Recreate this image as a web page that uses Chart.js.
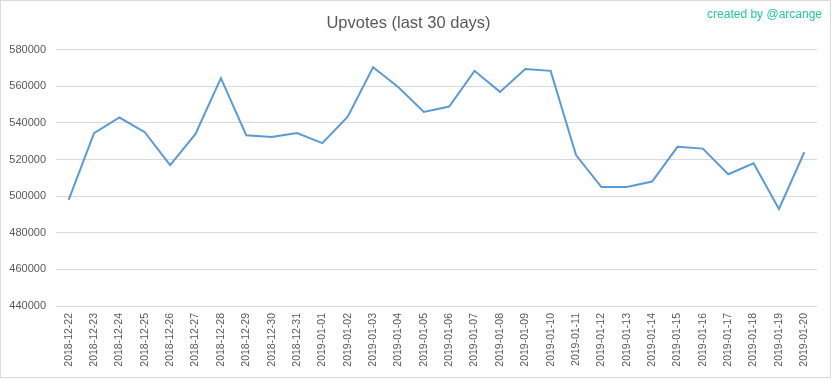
<!DOCTYPE html>
<html>
<head>
<meta charset="utf-8">
<script src="https://cdn.jsdelivr.net/npm/chart.js@4/dist/chart.umd.min.js"></script>
<style>
  body { margin: 0; background: #fff; }
  canvas { display: block; }
</style>
</head>
<body>
<canvas id="upvotesChart" width="832" height="379"></canvas>
<script>
const days = [
  "2018-12-22", "2018-12-23", "2018-12-24", "2018-12-25", "2018-12-26",
  "2018-12-27", "2018-12-28", "2018-12-29", "2018-12-30", "2018-12-31",
  "2019-01-01", "2019-01-02", "2019-01-03", "2019-01-04", "2019-01-05",
  "2019-01-06", "2019-01-07", "2019-01-08", "2019-01-09", "2019-01-10",
  "2019-01-11", "2019-01-12", "2019-01-13", "2019-01-14", "2019-01-15",
  "2019-01-16", "2019-01-17", "2019-01-18", "2019-01-19", "2019-01-20"
];
const upvotes = [
  498000, 534500, 543000, 535000, 517000,
  534000, 564500, 533300, 532300, 534500,
  529000, 543500, 570500, 559500, 546000,
  549000, 568500, 557000, 569500, 568500,
  522500, 505000, 505000, 508000, 527000,
  526000, 512000, 518000, 493000, 524000
];
const yMin = 440000;
const yMax = 580000;
const yStep = 20000;

// frame + credit text
const decorations = {
  id: "decorations",
  beforeDraw(chart) {
    const c = chart.ctx;
    c.save();
    c.fillStyle = "#ffffff";
    c.fillRect(0, 0, chart.width, chart.height);
    c.strokeStyle = "#d9d9d9";
    c.lineWidth = 1;
    c.strokeRect(0.5, 0.5, 830, 377);
    c.restore();
  },
  afterDraw(chart) {
    const c = chart.ctx;
    c.save();
    c.fillStyle = "#20c9a0";
    c.font = "12px 'Liberation Sans', Arial, sans-serif";
    c.textAlign = "right";
    c.textBaseline = "middle";
    c.fillText("created by @arcange", 822, 15);
    c.restore();
  }
};

const ctx = document.getElementById("upvotesChart").getContext("2d");
new Chart(ctx, {
  type: "line",
  data: {
    labels: days,
    datasets: [
      {
        label: "Upvotes",
        data: upvotes,
        borderColor: "#5b9bd5",
        borderWidth: 2,
        pointRadius: 0,
        tension: 0,
        fill: false,
      },
    ],
  },
  options: {
    responsive: false,
    animation: false,
    layout: { padding: { left: 0, right: 15, top: 0, bottom: 0 } },
    plugins: {
      legend: { display: false },
      tooltip: { enabled: false },
      title: {
        display: true,
        text: "Upvotes (last 30 days)",
        color: "#595959",
        font: { family: "'Liberation Sans', Arial, sans-serif", size: 16.5, weight: "normal" },
        padding: { top: 14, bottom: 16 },
      },
    },
    scales: {
      x: {
        offset: true,
        grid: { display: false, drawTicks: false },
        border: { display: false },
        afterFit(scale) { scale.height = 73; },
        ticks: {
          autoSkip: false,
          minRotation: 90,
          maxRotation: 90,
          padding: 7,
          color: "#595959",
          font: { family: "'Liberation Sans', Arial, sans-serif", size: 10.5 },
        },
      },
      y: {
        min: yMin,
        max: yMax,
        afterFit(scale) { scale.width = 56; },
        grid: { color: "#d9d9d9", lineWidth: 1, drawTicks: false },
        border: { display: false },
        ticks: {
          stepSize: yStep,
          padding: 10,
          color: "#595959",
          font: { family: "'Liberation Sans', Arial, sans-serif", size: 11 },
          callback: (value) => String(value),
        },
      },
    },
  },
  plugins: [decorations],
});
</script>
</body>
</html>
